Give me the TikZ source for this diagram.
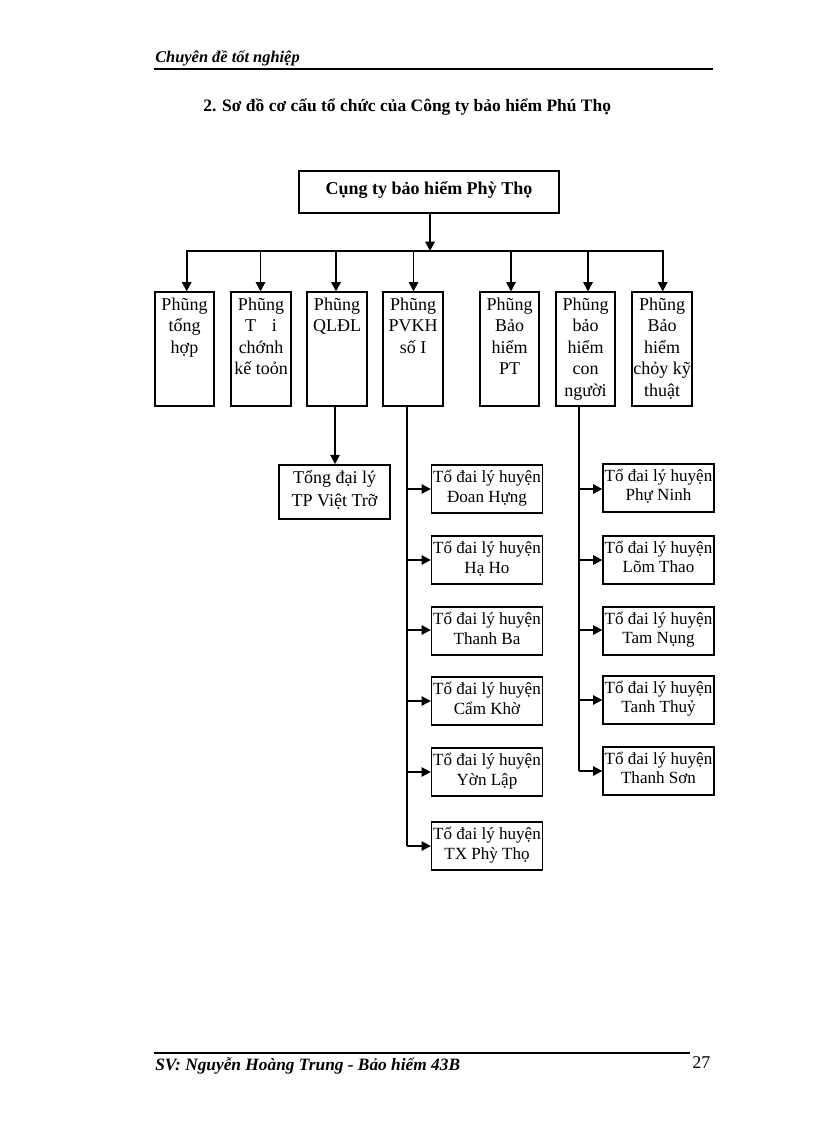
\documentclass[tikz,border=0pt]{standalone}
\usepackage{fontspec}
\setmainfont{Liberation Serif}
\usetikzlibrary{arrows.meta}
\usetikzlibrary{positioning}
\tikzset{
page/.style = { x = 0.75pt, y = -0.75pt },
head box/.style = { rectangle, draw = black, fill = white, line width = 1.5pt, minimum width = 195pt, minimum height = 31.5pt, inner sep = 0pt },
head text/.style = { anchor = center, inner sep = 0pt, font = \fontsize{13.5}{16}\bfseries\selectfont },
room/.style = { rectangle, draw = black, fill = white, line width = 1.3pt, minimum width = 44.5pt, minimum height = 85pt, inner sep = 0pt },
agency/.style = { rectangle, draw = black, fill = white, line width = 1.2pt, minimum width = 83pt, minimum height = 36pt, inner sep = 0pt },
box text/.style = { anchor = north, align = center, inner sep = 0pt, font = \fontsize{13.5}{16.1}\selectfont },
agency text/.style = { anchor = north, align = center, inner sep = 0pt, font = \fontsize{12.8}{15.2}\selectfont },
right text/.style = { anchor = north, align = center, inner sep = 0pt, font = \fontsize{12.8}{14.4}\selectfont },
link/.style = { draw = black, line width = 1.4pt },
arrow link/.style = { link, -{Triangle[length = 7pt, width = 7pt]} },
}
\begin{document}
\begin{tikzpicture}[page]
      \useasboundingbox (0, 0) rectangle (816, 1123);
      % header and footer
      \node[anchor = base west, inner sep = 0pt, font = \fontsize{12.3}{14}\bfseries\itshape\selectfont] (headnote) at (155, 63) {Chuyên đề tốt nghiệp};
      \coordinate (headrulel) at (154, 69);
      \coordinate (headruler) at (713, 69);
      \draw[line width = 2.2pt] (headrulel) -- (headruler);
      \node[anchor = base west, inner sep = 0pt, font = \fontsize{13.1}{16}\bfseries\selectfont] (title) at (203, 111.5) {2. Sơ đồ cơ cấu tổ chức của Công ty bảo hiểm Phú Thọ};
      \coordinate (footrulel) at (154, 1053);
      \coordinate (footruler) at (690, 1053);
      \draw[line width = 1.8pt] (footrulel) -- (footruler);
      \node[anchor = base west, inner sep = 0pt, font = \fontsize{13}{14}\bfseries\itshape\selectfont] (footnote) at (155, 1070) {SV: Nguyễn Hoàng Trung - Bảo hiểm 43B};
      \node[anchor = base west, inner sep = 0pt, font = \fontsize{13.5}{16}\selectfont] (pageno) at (692, 1068) {27};
      % top box and the bus
      \node[head box] (company) at (429, 192) {};
      \node[head text] (companyt) at (429, 190) {Cụng ty bảo hiểm Phỳ Thọ};
      \coordinate (busdrop) at (430, 251);
      \coordinate (bus1) at (186.7, 251);
      \coordinate (bus2) at (260.5, 251);
      \coordinate (bus3) at (336, 251);
      \coordinate (bus4) at (413.5, 251);
      \coordinate (bus5) at (511, 251);
      \coordinate (bus6) at (588, 251);
      \coordinate (bus7) at (662.7, 251);
      \draw[link, line cap = rect] (bus1) -- (bus7);
      \draw[arrow link] (busdrop |- company.south) -- (busdrop);
      % rooms
      \node[room] (tonghop) at (184.5, 349) {};
      \node[room] (taichinh) at (261, 349) {};
      \node[room] (qldl) at (337, 349) {};
      \node[room] (pvkh) at (413, 349) {};
      \node[room] (baohiempt) at (509.5, 349) {};
      \node[room] (connguoi) at (585.5, 349) {};
      \node[room] (chayky) at (662, 349) {};
      \node[box text] (tonghopt) at (tonghop.north) [yshift = -4.7pt] {Phũng\\tổng\\hợp};
      \node[box text] (taichinht) at (taichinh.north) [yshift = -4.7pt] {Phũng\\T\hspace{12pt}i\\chớnh\\kế toỏn};
      \node[box text] (qldlt) at (qldl.north) [yshift = -4.7pt] {Phũng\\QLĐL};
      \node[box text] (pvkht) at (pvkh.north) [yshift = -4.7pt] {Phũng\\PVKH\\số I};
      \node[box text] (baohiemptt) at (baohiempt.north) [yshift = -4.7pt] {Phũng\\Bảo\\hiểm\\PT};
      \node[box text] (connguoit) at (connguoi.north) [yshift = -4.7pt] {Phũng\\bảo\\hiểm\\con\\người};
      \node[box text] (chaykyt) at (chayky.north) [yshift = -4.7pt] {Phũng\\Bảo\\hiểm\\chỏy kỹ\\thuật};
      \draw[arrow link] (bus1) -- (bus1 |- tonghop.north);
      \draw[arrow link] (bus2) -- (bus2 |- taichinh.north);
      \draw[arrow link] (bus3) -- (bus3 |- qldl.north);
      \draw[arrow link] (bus4) -- (bus4 |- pvkh.north);
      \draw[arrow link] (bus5) -- (bus5 |- baohiempt.north);
      \draw[arrow link] (bus6) -- (bus6 |- connguoi.north);
      \draw[arrow link] (bus7) -- (bus7 |- chayky.north);
      % agency under QLDL
      \node[room, minimum width = 83pt, minimum height = 40.5pt] (vietri) at (334.5, 492) {};
      \node[box text, font = \fontsize{13.5}{17}\selectfont] (vietrit) at (vietri.north) [yshift = -4.5pt] {Tổng đại lý\\TP Việt Trỡ};
      \coordinate (qldlout) at (335, 405);
      \draw[arrow link] (qldlout) -- (qldlout |- vietri.north);
      % left column
      \node[agency] (doanhung) at (487, 489) {};
      \node[agency] (haho) at (487, 560) {};
      \node[agency] (thanhba) at (487, 631) {};
      \node[agency] (camkhe) at (487, 701) {};
      \node[agency] (yenlap) at (487, 772) {};
      \node[agency] (txphutho) at (487, 846) {};
      \node[agency text] (doanhungt) at (doanhung.north) [yshift = -4.3pt] {Tổ đai lý huyện\\Đoan Hựng};
      \node[agency text] (hahot) at (haho.north) [yshift = -4.3pt] {Tổ đai lý huyện\\Hạ Ho\hspace{10pt}};
      \node[agency text] (thanhbat) at (thanhba.north) [yshift = -4.3pt] {Tổ đai lý huyện\\Thanh Ba};
      \node[agency text] (camkhet) at (camkhe.north) [yshift = -4.3pt] {Tổ đai lý huyện\\Cẩm Khờ};
      \node[agency text] (yenlapt) at (yenlap.north) [yshift = -4.3pt] {Tổ đai lý huyện\\Yờn Lập};
      \node[agency text] (txphuthot) at (txphutho.north) [yshift = -4.3pt] {Tổ đai lý huyện\\TX Phỳ Thọ};
      \coordinate (pvkhout) at (406.7, 405);
      \coordinate (pvkh1) at (406.7, 489);
      \coordinate (pvkh2) at (406.7, 560);
      \coordinate (pvkh3) at (406.7, 630);
      \coordinate (pvkh4) at (406.7, 701);
      \coordinate (pvkh5) at (406.7, 772);
      \coordinate (pvkh6) at (406.7, 846);
      \draw[link] (pvkhout) -- (pvkh6);
      \draw[arrow link] (pvkh1) -- (pvkh1 -| doanhung.west);
      \draw[arrow link] (pvkh2) -- (pvkh2 -| haho.west);
      \draw[arrow link] (pvkh3) -- (pvkh3 -| thanhba.west);
      \draw[arrow link] (pvkh4) -- (pvkh4 -| camkhe.west);
      \draw[arrow link] (pvkh5) -- (pvkh5 -| yenlap.west);
      \draw[arrow link] (pvkh6) -- (pvkh6 -| txphutho.west);
      % right column
      \node[agency] (phuninh) at (658.5, 488) {};
      \node[agency] (lamthao) at (658.5, 560) {};
      \node[agency] (tamnong) at (658.5, 631) {};
      \node[agency] (thanhthuy) at (658.5, 700) {};
      \node[agency] (thanhson) at (658.5, 771) {};
      \node[right text] (phuninht) at (phuninh.north) [yshift = -4.1pt] {Tổ đai lý huyện\\Phự Ninh};
      \node[right text] (lamthaot) at (lamthao.north) [yshift = -4.1pt] {Tổ đai lý huyện\\Lõm Thao};
      \node[right text] (tamnongt) at (tamnong.north) [yshift = -4.1pt] {Tổ đai lý huyện\\Tam Nụng};
      \node[right text] (thanhthuyt) at (thanhthuy.north) [yshift = -4.1pt] {Tổ đai lý huyện\\Tanh Thuỷ};
      \node[right text] (thanhsont) at (thanhson.north) [yshift = -4.1pt] {Tổ đai lý huyện\\Thanh Sơn};
      \coordinate (nguoiout) at (579, 405);
      \coordinate (nguoi1) at (579, 489);
      \coordinate (nguoi2) at (579, 560);
      \coordinate (nguoi3) at (579, 630);
      \coordinate (nguoi4) at (579, 700);
      \coordinate (nguoi5) at (579, 771);
      \draw[link] (nguoiout) -- (nguoi5);
      \draw[arrow link] (nguoi1) -- (nguoi1 -| phuninh.west);
      \draw[arrow link] (nguoi2) -- (nguoi2 -| lamthao.west);
      \draw[arrow link] (nguoi3) -- (nguoi3 -| tamnong.west);
      \draw[arrow link] (nguoi4) -- (nguoi4 -| thanhthuy.west);
      \draw[arrow link] (nguoi5) -- (nguoi5 -| thanhson.west);
    \end{tikzpicture}
\end{document}
